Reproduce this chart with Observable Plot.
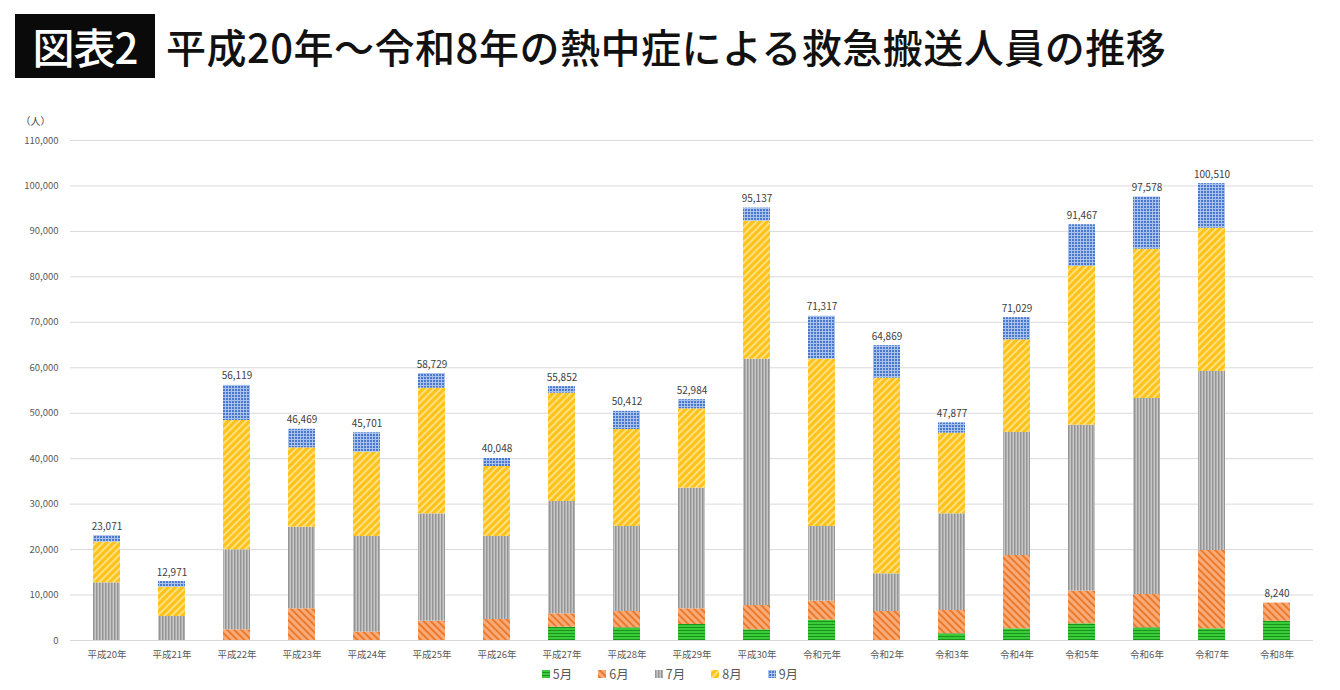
<!DOCTYPE html>
<html><head><meta charset="utf-8">
<script src="https://cdn.jsdelivr.net/npm/d3@7"></script>
<script src="https://cdn.jsdelivr.net/npm/@observablehq/plot@0.6"></script>
<style>
body{margin:0;background:#fff;font-family:"Noto Sans CJK JP",sans-serif;}
#wrap{width:1340px;height:690px;position:relative;overflow:hidden}
#title{height:100px;position:relative}
#badge{position:absolute;left:15px;top:14px;width:140px;height:64px;background:#0a0a0a;color:#fff;font-size:42px;font-weight:500;line-height:64px;text-align:center;letter-spacing:-1px}
#ttext{position:absolute;left:166px;top:14px;height:64px;line-height:64px;font-size:40px;font-weight:500;color:#111;white-space:nowrap;letter-spacing:0.5px}
#legend{position:absolute;left:0;top:665px;width:1340px;display:flex;justify-content:center;gap:26px;font-size:12.5px;color:#595959;line-height:18px}
#legend .it{display:flex;align-items:center;gap:3px}
#legend svg{display:block}
</style>
</head><body>
<svg width="0" height="0" style="position:absolute">
<defs>
<pattern id="pat0" patternUnits="userSpaceOnUse" width="4" height="3"><rect width="4" height="3" fill="#3acb3a"/><rect y="2" width="4" height="1" fill="#1b941b"/></pattern>
<pattern id="pat1" patternUnits="userSpaceOnUse" width="5" height="5" patternTransform="rotate(-45)"><rect width="5" height="5" fill="#f8ab78"/><rect width="2" height="5" fill="#ec7a2c"/></pattern>
<pattern id="pat2" patternUnits="userSpaceOnUse" width="3" height="4"><rect width="3" height="4" fill="#c8c8c8"/><rect width="1.5" height="4" fill="#959595"/></pattern>
<pattern id="pat3" patternUnits="userSpaceOnUse" width="5" height="5" patternTransform="rotate(45)"><rect width="5" height="5" fill="#ffc21a"/><rect width="2" height="5" fill="#ffe07f"/></pattern>
<pattern id="pat4" patternUnits="userSpaceOnUse" width="3" height="3"><rect width="3" height="3" fill="#4a78cc"/><rect width="1" height="3" fill="#a9c2ee"/><rect width="3" height="1" fill="#a9c2ee"/></pattern>
</defs>
</svg>
<div id="wrap">
  <div id="title"><div id="badge">図表2</div><div id="ttext">平成20年～令和8年の熱中症による救急搬送人員の推移</div></div>
  <div id="chart"></div>
  <div id="legend"></div>
</div>
<script>
const years = ["平成20年","平成21年","平成22年","平成23年","平成24年","平成25年","平成26年","平成27年","平成28年","平成29年","平成30年","令和元年","令和2年","令和3年","令和4年","令和5年","令和6年","令和7年","令和8年"];
const months = ["5月","6月","7月","8月","9月"];
const totals = [23071,12971,56119,46469,45701,58729,40048,55852,50412,52984,95137,71317,64869,47877,71029,91467,97578,100510,8240];
const may  = [0,0,0,0,0,0,0,2930,2790,3520,2350,4470,0,1470,2570,3670,2790,2570,4250];
const june = [0,0,2350,6970,1830,4250,4620,2940,3590,3450,5350,4180,6380,5130,16130,7190,7330,17230,3990];
const july = [12690,5280,17600,17960,21050,23610,18260,24710,18700,26550,54190,16430,8290,21270,27060,36520,43120,39380,0];
const aug  = [8940,6450,28450,17450,18550,27650,15400,23830,21340,17450,30360,36810,43050,17750,20390,34910,32850,31530,0];
const sep  = [1441,1241,7719,4089,4271,3219,1768,1442,3992,2014,2887,9427,7149,2257,4879,9177,11488,9800,0];
const yTicks = [0,10000,20000,30000,40000,50000,60000,70000,80000,90000,100000,110000];

const series = [may, june, july, aug, sep];
const rows = [];
months.forEach((m, i) => years.forEach((yr, j) => rows.push({year: yr, month: m, value: series[i][j]})));
const totalRows = years.map((yr, j) => ({year: yr, total: totals[j]}));
const patterns = months.map((m, i) => `url(#pat${i})`);
const font = "'Noto Sans CJK JP', sans-serif";

const chart = Plot.plot({
  width: 1340, height: 565,
  marginTop: 40, marginBottom: 25, marginLeft: 70, marginRight: 27,
  style: {fontFamily: font, background: "transparent", overflow: "visible"},
  x: {domain: years, paddingInner: 0.58, paddingOuter: 0.29, label: null},
  y: {domain: [0, 110000], label: null},
  color: {domain: months, range: patterns},
  marks: [
    Plot.gridY(yTicks, {stroke: "#d9d9d9", strokeOpacity: 1, strokeWidth: 1}),
    Plot.barY(rows, {x: "year", y: "value", fill: "month", order: months}),
    Plot.text(totalRows, {x: "year", y: "total", text: d => d3.format(",")(d.total), lineAnchor: "bottom", dy: -6, fontSize: 10, fill: "#404040"}),
    Plot.text(["（人）"], {frameAnchor: "top-left", dx: -50, dy: -23, textAnchor: "start", fontSize: 10, fill: "#404040"}),
    Plot.axisX({tickSize: 0, tickPadding: 11, fontSize: 9.5, color: "#595959", label: null}),
    Plot.axisY({ticks: yTicks, tickFormat: d3.format(","), tickSize: 0, tickPadding: 12, fontSize: 9.5, color: "#595959", label: null})
  ]
});
document.getElementById("chart").appendChild(chart);

const legend = d3.select("#legend");
months.forEach((m, i) => {
  const it = legend.append("div").attr("class", "it");
  it.append("svg").attr("width", 8).attr("height", 8)
    .append("rect").attr("width", 8).attr("height", 8).attr("fill", patterns[i]);
  it.append("span").text(m);
});
</script>
</body></html>
